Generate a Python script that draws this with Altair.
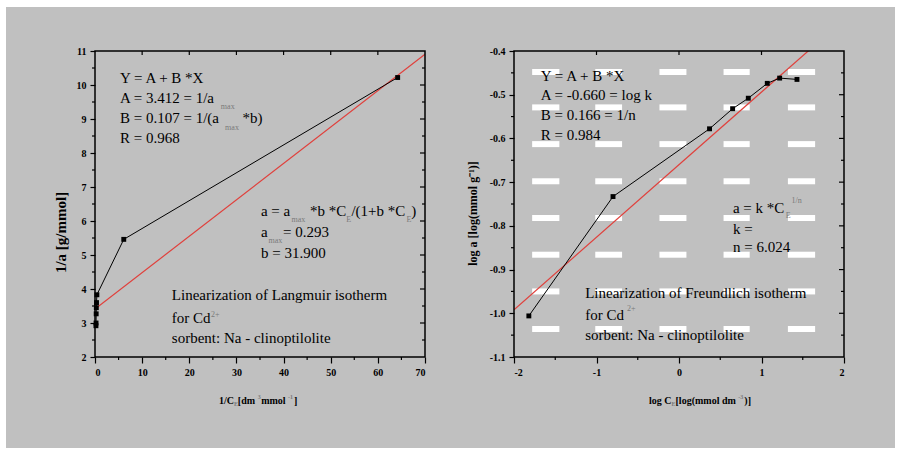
import altair as alt
import pandas as pd

GREY = "#c0c0c0"
SERIF = "Liberation Serif"
RED = "#e0403c"
SUBGREY = "#7a7a7a"
W, H = 330, 306

# ---------------- Langmuir linearisation: 1/C_E vs 1/a ----------------
lang_inv_c = [0.20, 0.22, 0.25, 0.28, 0.32, 0.40, 6.10, 64.20]
lang_inv_a = [2.92, 3.00, 3.27, 3.45, 3.60, 3.83, 5.46, 10.22]
lang_A = 3.412
lang_B = 0.107
lang_x_domain = [0, 70]
lang_y_domain = [2, 11]
lang_x_major = [0, 10, 20, 30, 40, 50, 60, 70]
lang_x_minor = [5, 15, 25, 35, 45, 55, 65]
lang_x_top = [10, 20, 30, 40, 50, 60]
lang_y_major = [2, 3, 4, 5, 6, 7, 8, 9, 10, 11]
lang_y_minor = [2.5, 3.5, 4.5, 5.5, 6.5, 7.5, 8.5, 9.5, 10.5]
lang_y_right = [3, 4, 5, 6, 7, 8, 9, 10]

lang_notes = [
    ("Y = A + B *X", 5.3, 10.05),
    ("A = 3.412 = 1/a", 5.3, 9.47),
    ("B = 0.107 = 1/(a", 5.3, 8.88),
    ("*b)", 31.3, 8.88),
    ("R = 0.968", 5.3, 8.29),
    ("a = a", 35.2, 6.16),
    ("*b *C", 45.6, 6.16),
    ("/(1+b *C", 54.4, 6.16),
    (")", 67.1, 6.16),
    ("a", 35.2, 5.54),
    ("= 0.293", 39.9, 5.54),
    ("b = 31.900", 35.2, 4.91),
    ("Linearization of Langmuir isotherm", 16.3, 3.68),
    ("for Cd", 16.3, 3.01),
    ("sorbent: Na - clinoptilolite", 16.3, 2.42),
]
lang_small = [
    ("max", 26.7, 9.28),
    ("max", 27.6, 8.67),
    ("max", 41.7, 5.98),
    ("E", 53.3, 5.98),
    ("E", 66.1, 5.98),
    ("max", 36.8, 5.36),
    ("2+", 24.6, 3.19),
]
lang_xtitle = [
    ("1/C", 26.3, "main"),
    ("E", 29.5, "sub"),
    (" [dm", 30.3, "main"),
    ("3", 34.5, "sup"),
    (" mmol", 35.25, "main"),
    ("-1", 40.96, "sup"),
    ("]", 42.2, "main"),
]

# ---------------- Freundlich linearisation: log C_E vs log a ----------------
freu_log_c = [-1.82, -0.80, 0.37, 0.65, 0.84, 1.07, 1.22, 1.43]
freu_log_a = [-1.006, -0.733, -0.578, -0.532, -0.508, -0.474, -0.462, -0.465]
freu_A = -0.660
freu_B = 0.166
freu_x_domain = [-2, 2]
freu_y_domain = [-1.1, -0.4]
freu_x_major = [-2, -1, 0, 1, 2]
freu_x_minor = [-1.5, -0.5, 0.5, 1.5]
freu_x_top = [-1, 0, 1]
freu_y_major = [-1.1, -1.0, -0.9, -0.8, -0.7, -0.6, -0.5, -0.4]
freu_y_minor = [-1.05, -0.95, -0.85, -0.75, -0.65, -0.55, -0.45]
freu_y_right = [-1.0, -0.9, -0.8, -0.7, -0.6, -0.5]

# white dashed grid bands
band_rows = [-0.448, -0.529, -0.613, -0.698, -0.782, -0.866, -0.950, -1.036]
band_starts = [-1.78, -1.015, -0.237, 0.54, 1.32]
band_ends = [-1.45, -0.69, 0.09, 0.857, 1.65]

freu_notes = [
    ("Y = A + B *X", -1.675, -0.468),
    ("A = -0.660 = log k", -1.675, -0.511),
    ("B = 0.166 = 1/n", -1.675, -0.558),
    ("R = 0.984", -1.675, -0.603),
    ("a = k *C", 0.654, -0.770),
    ("k =", 0.654, -0.818),
    ("n = 6.024", 0.654, -0.860),
    ("Linearization of Freundlich isotherm", -1.137, -0.964),
    ("for Cd", -1.137, -1.016),
    ("sorbent: Na - clinoptilolite", -1.137, -1.061),
]
freu_small = [
    ("1/n", 1.364, -0.747),
    ("E", 1.295, -0.783),
    ("2+", -0.63, -0.995),
]
freu_xtitle = [
    ("log C", -0.364, "main"),
    ("E", -0.091, "sub"),
    (" [log(mmol dm", -0.042, "main"),
    ("-3", 0.719, "sup"),
    (")]", 0.792, "main"),
]

ASCII_MINUS = "replace(datum.label, '\u2212', '-')"


def sc(dom):
    return alt.Scale(domain=dom, nice=False, zero=False)


def panel(xs, ys, A, B, xdom, ydom, xmaj, xmin, xtop, ymaj, ymin, yright,
          yfmt, ytitle, ytitle_size, ytitle_x, ytitle_y, notes, small, xtitle,
          bg_left, bg_right, bands=None):
    one = pd.DataFrame({"k": [0]})

    x_axis = alt.Axis(
        values=xmaj, format="d", labelExpr=ASCII_MINUS,
        tickSize=6, tickWidth=1.2, tickColor="black",
        labelPadding=4, domain=False, grid=False, title=None, zindex=2,
        labelFont=SERIF, labelFontWeight="bold", labelFontSize=10,
        labelColor="black")
    y_axis = alt.Axis(
        values=ymaj, format=yfmt, labelExpr=ASCII_MINUS,
        tickSize=5, tickWidth=1.2, tickColor="black",
        labelPadding=4, domain=False, grid=False, title=ytitle, zindex=2,
        titleX=ytitle_x, titleY=ytitle_y, titleAngle=270,
        titleAlign="center", titleBaseline="middle",
        titleFont=SERIF, titleFontWeight="bold", titleFontSize=ytitle_size,
        titleColor="black",
        labelFont=SERIF, labelFontWeight="bold", labelFontSize=10,
        labelColor="black")

    def X(field="x"):
        return alt.X(f"{field}:Q", scale=sc(xdom), axis=x_axis)

    def Y(field="y"):
        return alt.Y(f"{field}:Q", scale=sc(ydom), axis=y_axis)

    layers = []

    # grey backdrop behind the panel
    layers.append(
        alt.Chart(one).mark_rect(color=GREY).encode(
            x=alt.value(bg_left), x2=alt.value(bg_right),
            y=alt.value(-44), y2=alt.value(H + 91))
    )

    if bands is not None:
        layers.append(
            alt.Chart(bands).mark_rule(color="white", strokeWidth=6).encode(
                x=X(), x2="x2:Q", y=Y())
        )

    # least-squares line from the stated intercept and slope
    fit = pd.DataFrame({"x": xdom, "y": [A + B * v for v in xdom]})
    layers.append(
        alt.Chart(fit).mark_line(color=RED, strokeWidth=1.2, clip=True).encode(
            x=X(), y=Y())
    )

    df = pd.DataFrame({"x": xs, "y": ys, "o": list(range(len(xs)))})
    layers.append(
        alt.Chart(df).mark_line(color="black", strokeWidth=1).encode(
            x=X(), y=Y(), order="o:Q")
    )
    layers.append(
        alt.Chart(df).mark_point(shape="square", filled=True, size=24,
                                 color="black", opacity=1).encode(x=X(), y=Y())
    )

    # minor ticks (outward) and mirror ticks (inward)
    tick_rule = dict(color="black", strokeWidth=1.2)
    layers.append(
        alt.Chart(pd.DataFrame({"x": xmin})).mark_rule(**tick_rule).encode(
            x=X(), y=alt.value(H), y2=alt.value(H + 3))
    )
    layers.append(
        alt.Chart(pd.DataFrame({"y": ymin})).mark_rule(**tick_rule).encode(
            y=Y(), x=alt.value(-3), x2=alt.value(0))
    )
    layers.append(
        alt.Chart(pd.DataFrame({"x": xtop})).mark_rule(**tick_rule).encode(
            x=X(), y=alt.value(0), y2=alt.value(4))
    )
    layers.append(
        alt.Chart(pd.DataFrame({"y": yright})).mark_rule(**tick_rule).encode(
            y=Y(), x=alt.value(W - 5), x2=alt.value(W))
    )
    layers.append(
        alt.Chart(pd.DataFrame({"y": ymin})).mark_rule(**tick_rule).encode(
            y=Y(), x=alt.value(W - 3), x2=alt.value(W))
    )

    # plot frame
    layers.append(
        alt.Chart(one).mark_rect(fillOpacity=0, stroke="black", strokeWidth=1.5).encode(
            x=alt.value(0), x2=alt.value(W), y=alt.value(0), y2=alt.value(H))
    )

    nt = pd.DataFrame(notes, columns=["t", "x", "y"])
    layers.append(
        alt.Chart(nt).mark_text(align="left", baseline="alphabetic", font=SERIF,
                                fontSize=15, color="black").encode(
            x=X(), y=Y(), text="t:N")
    )
    st = pd.DataFrame(small, columns=["t", "x", "y"])
    layers.append(
        alt.Chart(st).mark_text(align="left", baseline="alphabetic", font=SERIF,
                                fontSize=8, color=SUBGREY).encode(
            x=X(), y=Y(), text="t:N")
    )

    # x-axis title assembled from pieces (sub/superscripts)
    xt = pd.DataFrame(xtitle, columns=["t", "x", "kind"])
    for kind, yoff, fs, col in [("main", H + 47, 10, "black"),
                                ("sub", H + 49, 6, SUBGREY),
                                ("sup", H + 42, 6, SUBGREY)]:
        part = xt[xt["kind"] == kind]
        layers.append(
            alt.Chart(part).mark_text(align="left", baseline="alphabetic", font=SERIF,
                                      fontSize=fs, fontWeight="bold", color=col).encode(
                x=X(), y=alt.value(yoff), text="t:N")
        )

    return alt.layer(*layers).properties(width=W, height=H)


left = panel(lang_inv_c, lang_inv_a, lang_A, lang_B, lang_x_domain, lang_y_domain,
             lang_x_major, lang_x_minor, lang_x_top, lang_y_major, lang_y_minor,
             lang_y_right, "d", "1/a [g/mmol]", 15, -35, 181,
             lang_notes, lang_small, lang_xtitle, -89, 369)

bands = pd.DataFrame(
    [(s, e, r) for r in band_rows for s, e in zip(band_starts, band_ends)],
    columns=["x", "x2", "y"])

right = panel(freu_log_c, freu_log_a, freu_A, freu_B, freu_x_domain, freu_y_domain,
              freu_x_major, freu_x_minor, freu_x_top, freu_y_major, freu_y_minor,
              freu_y_right, ".1f", "log a [log(mmol g⁻¹)]", 12, -42, 162,
              freu_notes, freu_small, freu_xtitle, -50, 381, bands=bands)

chart = alt.hconcat(left, right, spacing=0).properties(
    padding={"left": 6, "top": 7, "right": 4, "bottom": 1},
    background="white",
).configure_view(strokeWidth=0)

chart.save("out.html", embed_options={"renderer": "svg", "actions": False})
